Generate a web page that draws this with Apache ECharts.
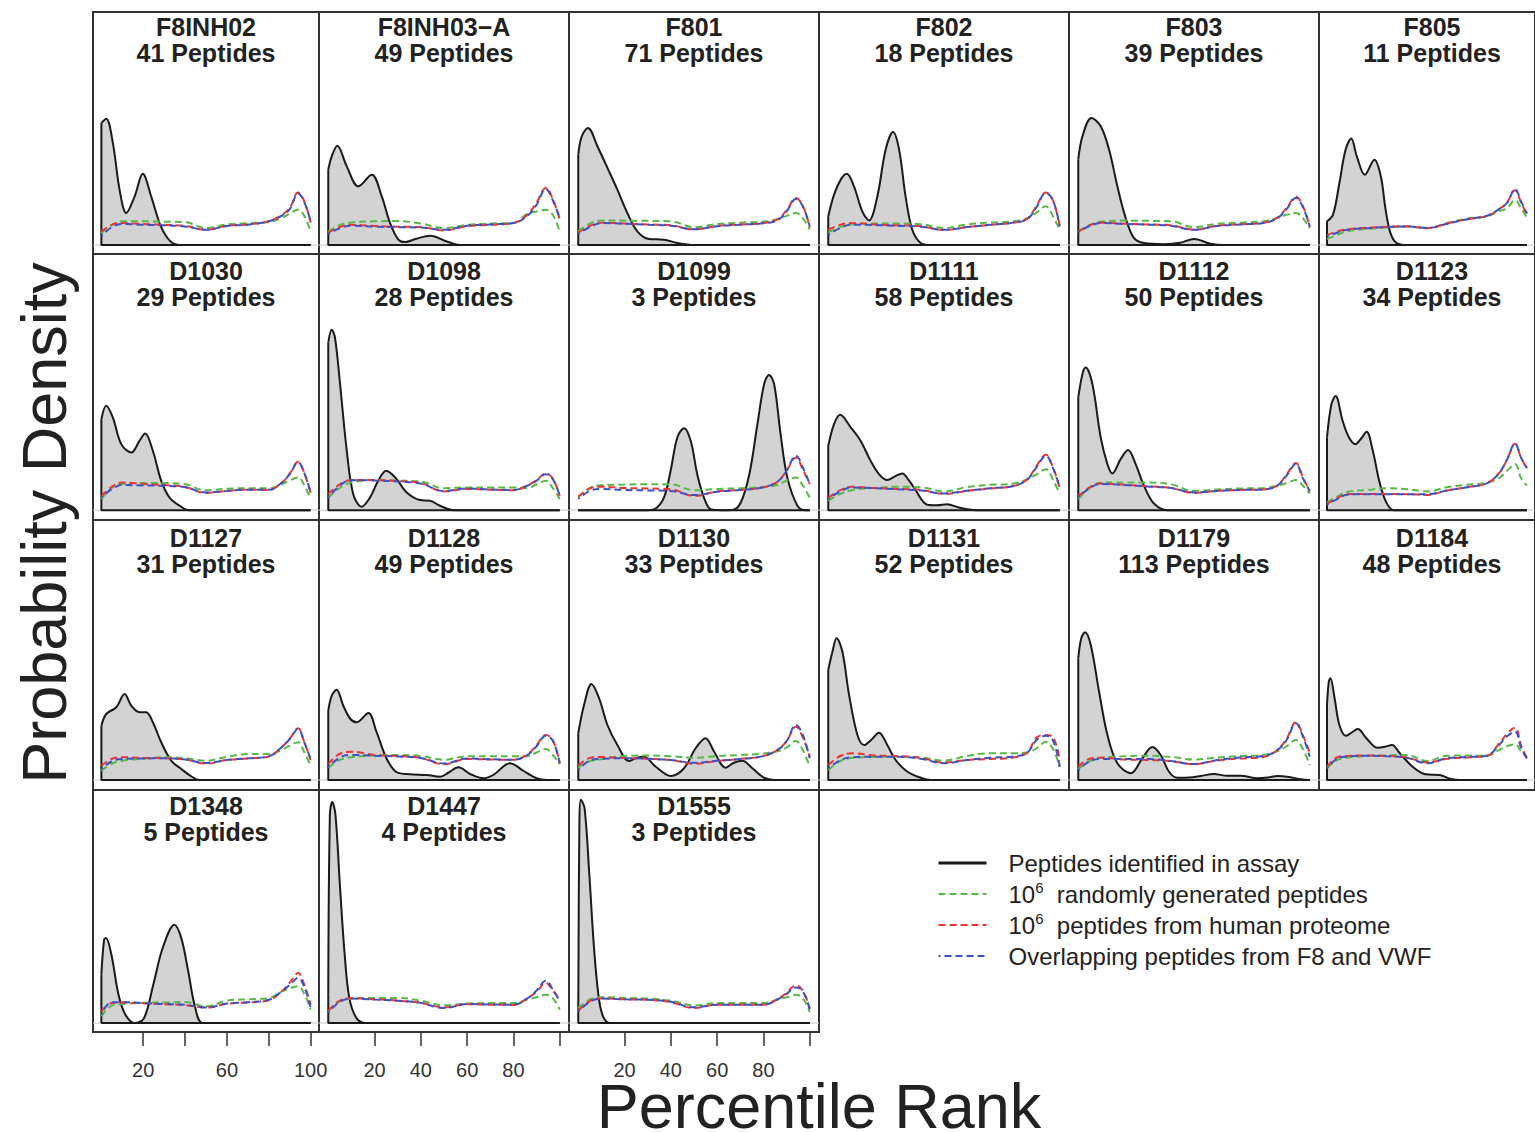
<!DOCTYPE html>
<html>
<head>
<meta charset="utf-8">
<script src="https://cdn.jsdelivr.net/npm/echarts@6/dist/echarts.min.js"></script>
<style>
html,body{margin:0;padding:0;background:#fff;}
#chart{width:1535px;height:1132px;}
</style>
</head>
<body>
<div id="chart"></div>
<script>
// ---------------- DATA ----------------
const panelNames = ['F8INH02','F8INH03\u2212A','F801','F802','F803','F805',
  'D1030','D1098','D1099','D1111','D1112','D1123',
  'D1127','D1128','D1130','D1131','D1179','D1184',
  'D1348','D1447','D1555'];
const peptideCounts = [41,49,71,18,39,11, 29,28,3,58,50,34, 31,49,33,52,113,48, 5,4,3];

const xTickValues = [20,40,60,80,100];
const xLabelsFirstCol = [20,60,100];
const xLabelsOtherCols = [20,40,60,80];

// x positions (percentile rank) at which the three reference curves were read
const refX = [0,5,10,20,30,40,50,60,70,80,86,90,94,97,100];

// density curves of peptides identified in assay: [percentile rank, density]
const assay_F8INH02 = [[0,54.5],[2.3,56.4],[5.5,45.5],[8.7,24.7],[11.9,14.3],[15.9,21.7],[19.8,31.8],[23.8,21.7],[27.8,9.8],[31,3.9],[34.5,0.6],[39,0],[100,0]];
const assay_F8INH03A = [[0,33.6],[1.5,39.6],[3.9,44.3],[8,35.1],[13,26.2],[18.8,31.4],[23.1,21.7],[26.7,9.8],[30.3,2.4],[33.2,1.3],[38,2.8],[44,4.2],[51.2,1.6],[57,0],[100,0]];
const assay_F801 = [[0,40.3],[1.5,48.5],[4.2,52.2],[8.3,44],[13.3,32.9],[16.9,24.7],[21.2,14.3],[25.5,6.1],[30.6,2.7],[37,2.4],[42.8,0.9],[50,0],[100,0]];
const assay_F802 = [[0,12.8],[2.5,22.5],[5.4,29.2],[8,31.8],[11.1,26.2],[14.7,15],[17.6,11],[21.2,21.7],[24.8,42.6],[28,50.4],[30.6,42.6],[33.4,21.7],[36.3,6.8],[39.9,0.9],[44,0],[100,0]];
const assay_F803 = [[0,38.1],[1.8,48.5],[5.7,56.7],[9.7,53],[13.3,42.6],[16.9,26.2],[20.5,12],[24.1,3.1],[28.4,0.9],[37,0.4],[44,1],[50,2.7],[57.2,0.6],[63,0],[100,0]];
const assay_F805 = [[0,10.6],[3,13.5],[6.2,27.7],[9.3,42.6],[12.1,47.5],[14.9,39.6],[18.9,31.4],[23.7,38.1],[26.9,30.7],[29.3,15.8],[31.7,5.4],[34.8,0.9],[41.2,0],[100,0]];
const assay_D1030 = [[0,36.9],[2.3,42.4],[5.5,37.6],[9.5,26.8],[14.3,23.4],[18.2,28.1],[20.9,31.1],[24.6,24.1],[28.6,11.9],[32.6,5.1],[37.4,1.8],[42.1,0],[100,0]];
const assay_D1098 = [[0,68],[1.5,73.2],[2.9,70.1],[5.1,51.2],[8,24.1],[10.8,6.5],[14.4,1.4],[18,5.1],[21.6,11.9],[25,16],[28.9,13.3],[33.9,7.2],[39.7,4.1],[44,3.8],[48.3,1.8],[54,0],[100,0]];
const assay_D1099 = [[0,0],[30,0],[32.7,0.3],[37,5.1],[39.9,16],[42.8,29.5],[45.7,33.3],[48.6,28.1],[51.4,14.6],[54.3,5.1],[57.2,0.4],[62,0],[66.6,0.1],[70.2,3.1],[73.9,14.6],[77.4,34.9],[80.3,51.2],[82.4,54.9],[84.6,51.2],[87.4,30.9],[90.3,13.3],[94.7,1.8],[98.2,0],[100,0]];
const assay_D1111 = [[0,26.1],[2.5,34.9],[5.1,38.7],[9.7,33.6],[14,28.1],[18.3,20],[22,14.5],[25.5,12.2],[29,13.8],[32,14.9],[34.5,12.5],[37,9.2],[42.8,2.2],[47,2],[51.4,2.4],[56,1.2],[60,0.4],[64.4,0],[100,0]];
const assay_D1112 = [[0,45.7],[1.8,55.2],[3.2,57.9],[6.1,51.2],[9.7,29.5],[12.6,18.7],[14.7,14.9],[18.3,20.7],[21.5,24.4],[24.8,18.7],[28.4,9.9],[32.7,2.7],[38.5,0],[100,0]];
const assay_D1123 = [[0,29.5],[2.2,43],[4.3,46.3],[7.8,36.3],[11,29.5],[14.2,26.8],[17,29],[19.8,31.8],[22.9,24.1],[26.1,11.9],[29.3,3.8],[33.3,0],[100,0]];
const assay_D1127 = [[0,21.7],[2.3,26.4],[7.1,29.1],[11.1,34.4],[14.3,29.7],[18.2,27.1],[21.4,27.1],[24.6,23.1],[28.6,15.1],[33.4,7.7],[38.2,4.4],[42.9,1.5],[46.9,0],[100,0]];
const assay_D1128 = [[0,27.7],[1.5,33.7],[3.6,36.1],[6.5,29.7],[9.5,24.5],[12.3,23.1],[17.3,26.8],[20.9,19.1],[25.3,8.4],[29.6,3.1],[35.3,2.3],[42.5,2],[48.3,1.3],[52,3],[56.2,5.1],[61.3,2.4],[67,0.7],[71.3,2],[78.5,6.7],[84.3,3.7],[90,0.7],[94.3,0],[100,0]];
const assay_D1130 = [[0,18.7],[2.5,30],[5.7,38.4],[9,32.7],[12.6,22],[16.9,14],[21.9,7.6],[25,8.8],[28.4,9.3],[33.5,5.3],[40,1.6],[45.7,4.7],[50.7,12.7],[55,16.7],[58.7,11.3],[63.7,4.9],[67,6.8],[70.9,7.7],[75.2,4.7],[80.3,0.9],[84.6,0],[100,0]];
const assay_D1131 = [[0,44],[1.8,51.3],[3.6,56.7],[6.1,51.3],[9,34],[12.6,18],[15.5,14],[18.5,16],[21.9,18.9],[25.5,14],[29.1,8],[34.2,3.3],[40,0.9],[44.3,0],[100,0]];
const assay_D1179 = [[0,48.7],[1.3,56.7],[2.9,59.1],[5.4,54],[9,35.3],[12.6,18],[16.9,6.7],[22.7,2.7],[27.7,8.7],[32,13.2],[35.6,10],[39.2,3.3],[42.8,0.9],[48,1],[52.9,1.6],[58.6,2.4],[64.4,1.7],[70.2,1.7],[77.4,0.7],[82,1],[86,1.6],[91.1,1.2],[96.1,0.3],[100,0]];
const assay_D1184 = [[0,30],[0.9,39.3],[1.7,40.7],[3.8,32.7],[6.2,22],[9.4,17.7],[12,18.8],[15.4,20.4],[19.7,16.7],[25.3,12.9],[29,13.3],[32.5,14],[36.4,10.7],[42.8,5.3],[49.2,2.3],[56.4,2],[62,0.4],[66.7,0],[100,0]];
const assay_D1348 = [[0,21.6],[1.3,37.2],[2.2,37.9],[4.8,30.5],[8.2,12.6],[11.5,3.7],[16,0],[20.4,2.2],[24.8,17.1],[29.3,33.5],[34.9,43.9],[38.2,37.9],[41.5,23.1],[44.9,6.7],[48.6,0],[100,0]];
const assay_D1447 = [[0,12.6],[0.7,93],[1.7,98.7],[3.1,93],[5.1,60.3],[7.1,30.5],[9.1,11.2],[12.2,2.2],[16.2,0],[100,0]];
const assay_D1555 = [[0,5.2],[0.5,90],[1.1,99.7],[2.7,96],[4.7,67.7],[6.7,35],[8.7,12.6],[10.7,3],[13.8,0],[100,0]];

// 10^6 randomly generated peptides (values at refX)
const random_F8INH02 = [5.4,9,10.6,10.6,10.4,10.2,7.6,9.2,9.8,10.3,12,14,15.8,13,6];
const random_F8INH03A = [6,9,10.1,10.6,10.7,9.6,7.6,9,9.6,9.8,14,15,15.8,13.5,6];
const random_F801 = [6.1,9.5,11,10.9,10.8,10.6,8,9.4,10,10.5,11.5,13,14.3,12,7];
const random_F802 = [5.6,8,9.2,9.6,9.6,9.3,7.6,9.2,10,10.6,12,14.5,17.3,13,6.8];
const random_F803 = [6,9,10.5,10.9,10.8,10.6,8,9.5,10,10.6,12,13.5,14.3,12,7.5];
const random_F805 = [2.7,4.5,6.1,7.2,7.8,8.2,7.6,9.8,11.8,12.8,15,16.5,20,16.5,12];
const random_D1030 = [4.5,9,10.6,11,11,10.5,8.1,8.7,8.9,8.9,10.5,12,13.3,10,4.5];
const random_D1098 = [5.1,9,11.2,12.2,12,11.6,8.9,9.2,9.2,9.2,8.9,10.5,11.9,9,4.5];
const random_D1099 = [5.1,9,10.1,10.4,10.5,10.5,8.1,8.6,8.9,9.4,10.2,12,13.3,10,5.1];
const random_D1111 = [3.8,6.5,8.1,9,9.5,9.3,7.6,9.4,10.3,10.8,12.5,14.5,16.6,12.5,6.5];
const random_D1112 = [4.5,9,11.2,11.2,11.2,10.5,7.8,8.4,8.8,8.9,10,11,12.2,10,6.8];
const random_D1123 = [3.1,5.5,7.4,8.2,8.9,8.5,7.6,9.3,10.3,11.2,13,16,18.7,13,10];
const random_D1127 = [3.7,6.5,7.7,8.5,9.1,8.8,7.7,9.3,10.4,10.4,12,13.7,15.1,11,5.7];
const random_D1128 = [5,8,9.1,9.8,10,9.6,8.1,9.5,9.5,9.5,9.5,11,12.4,10,6.4];
const random_D1130 = [5,7.5,8.3,9.6,9.8,9.5,8.9,9.6,10,10.6,11.5,13,15.6,12,5.3];
const random_D1131 = [4,7.5,8.8,9.2,9.4,9,7.8,9.6,10.7,10.7,11,12.7,15.3,12.5,5.3];
const random_D1179 = [4.4,7.5,8.9,9.5,9.7,9.2,8.2,9,9.6,10,11.5,13.5,16,12.5,6];
const random_D1184 = [4.7,8,8.9,9.6,9.9,10,7.6,9.7,9.8,9.7,12,13.5,14.3,11.5,9];
const random_D1348 = [3,7.8,8.5,9,9.2,9.4,7.5,10,10.6,11.2,14,15.5,16.4,13,6];
const random_D1447 = [5.2,9.7,11,11.2,11.2,10,7.9,8.7,8.9,8.9,10.5,11.5,12.6,11,6];
const random_D1555 = [6.7,10.5,11.5,11.2,10.9,10,7.9,8.9,8.9,8.9,10.5,11.5,12.6,11,4.9];

// 10^6 peptides from human proteome (values at refX)
const proteome_F8INH02 = [6,9,9.8,9.4,9,8.5,6.8,8.6,9.2,10.6,13.3,16.5,23.5,19.5,10];
const proteome_F8INH03A = [5.5,8,9,8.5,8.2,8,6.5,8.4,9,9.8,13.5,19,25.5,20.5,11.5];
const proteome_F801 = [5.5,8.5,10,9.6,9.2,8.8,7,8.5,9.2,9.8,11.5,15.5,21,17.5,8];
const proteome_F802 = [6.8,9,9.8,9.2,8.8,8.4,6.7,8,9,10,11.8,17.5,23.5,20,8.5];
const proteome_F803 = [6,8.8,10,9.5,9.2,8.8,6.9,8.6,9.3,9.9,12.3,16.5,21.5,17.5,8];
const proteome_F805 = [4.5,6,7,7.7,8.2,8.4,7.5,9.6,11.5,13,16,19,24.5,19,13.5];
const proteome_D1030 = [5.7,9.5,11.2,10.6,10.2,9.4,7,7.8,8.3,8.2,11,14.8,19.6,15,7];
const proteome_D1098 = [6.5,10.5,12.2,12.2,11.8,11,7.6,8.6,8.3,8.1,10,12.2,14.9,12.8,5.8];
const proteome_D1099 = [5.5,8.8,9.5,9,8.8,8.5,5.8,7.6,8.2,9.3,11.5,16,21.4,16.5,10.6];
const proteome_D1111 = [5,8,9.5,9,8.6,8.2,6.6,7.8,8.8,9.8,12.5,18,22.5,17.5,9];
const proteome_D1112 = [5.5,9.3,10.8,10.3,9.7,9,7,7.8,8.2,8.4,10,14.5,19.1,13.5,7.5];
const proteome_D1123 = [2.5,4.8,6.5,6.6,6.6,6.5,6.2,8,9.3,11,15,20.5,27,21.4,16.5];
const proteome_D1127 = [5.7,8.5,9.1,8.8,8.7,8.2,6.6,8,8.6,9.4,13,16.5,20.7,15,8];
const proteome_D1128 = [6.4,10.5,11.3,10,9.6,8.8,6.3,8.4,8.2,8.1,10.2,14,18,16,6.5];
const proteome_D1130 = [5.8,8.8,9.2,8.8,8.5,8,6.5,7.6,8.4,9.6,12,15.5,21.3,17,9.3];
const proteome_D1131 = [6,9.5,10.7,9.8,9.6,8.8,7,8,8.4,9,11,17,18,17.3,7.8];
const proteome_D1179 = [5.3,8.5,8.9,8.2,8,7.6,6.3,7.8,8.6,9.2,12,16.5,23.1,18,10.7];
const proteome_D1184 = [5.3,9,9.6,9.8,9.6,9,7,8.5,9,9.7,14.5,18.5,20.9,14,8.5];
const proteome_D1348 = [5.2,8.9,9.2,8.8,8.4,8,6.9,8.6,9.2,10.2,14,18,22.3,17,8.2];
const proteome_D1447 = [5.5,10,11.1,10.6,10,9,7,8.4,8.2,8.1,11,14,17.9,14.5,10.4];
const proteome_D1555 = [5.5,9.8,11,10.6,10.4,9.3,6.7,8.2,8.2,8.2,10.5,13.5,16.8,14.5,6.5];

// overlapping peptides from F8 and VWF (values at refX)
const overlap_F8INH02 = [4,8,9.4,9,8.8,8.3,6.8,8.5,9.1,10.6,13,16,23,19,10.6];
const overlap_F8INH03A = [5,7.5,8.6,8.2,8,7.8,6.8,8.6,9.2,9.8,13,18,25,20,12];
const overlap_F801 = [5,8,9.8,9.5,9.1,8.6,7.1,8.4,9.1,9.7,11,15,20.5,17.3,8.3];
const overlap_F802 = [4.6,7.5,9.1,8.9,8.6,8.2,6.8,8,9,10,11.6,17,23.2,20.2,8.3];
const overlap_F803 = [5.7,8.5,9.8,9.4,9.1,8.6,6.8,8.5,9.2,9.8,12,16,21,17,8.3];
const overlap_F805 = [3.9,5.5,6.8,7.5,8,8.3,7.6,9.5,11.5,13.1,16,18.8,25,19.5,14];
const overlap_D1030 = [5.1,8.5,10.2,10,9.9,9.3,7.2,7.8,8.3,8.3,11,14.6,19.4,15,7.2];
const overlap_D1098 = [5.1,10,12.2,12,11.6,10.8,7.8,8.8,8.4,8.2,9.9,12,14.6,12.6,5.8];
const overlap_D1099 = [4.5,7.8,8.6,8.2,8,7.8,6.1,7.5,8.2,9.3,11.5,16,22.1,17.3,10.6];
const overlap_D1111 = [4.5,7.5,9.2,8.9,8.5,8,6.8,7.9,8.9,9.8,12.5,17.5,22.1,17.3,9.2];
const overlap_D1112 = [5.1,9,10.6,10.2,9.6,9,7.2,7.8,8.2,8.4,10,14,18.7,13,7.8];
const overlap_D1123 = [2.2,4.5,6.3,6.5,6.5,6.5,6.5,8,9.3,11,15,20.5,27,21.4,17];
const overlap_D1127 = [4.4,7.5,8.4,8.6,8.7,8.2,6.8,8,8.7,9.5,13,16.4,20.4,15,8.4];
const overlap_D1128 = [5.1,9,10,9.7,9.4,8.8,6.6,8.6,8.3,8.1,10,13.5,17.7,15.7,6.7];
const overlap_D1130 = [4,7.8,8.5,8.7,8.5,8,6.9,7.7,8.4,9.6,12,15.5,22,18,8.7];
const overlap_D1131 = [4.7,7.8,9.1,9.3,9.3,8.5,6.7,8,8.9,9.4,11,16,17.7,16,5.3];
const overlap_D1179 = [4,7.5,8.4,8.4,8.4,7.6,6.4,8,9,9.6,12,16,22.7,17.5,9.3];
const overlap_D1184 = [4.7,8.5,9.4,9.7,9.5,8.9,6.7,8.7,9.2,9.7,14,17.5,19.3,13,8.5];
const overlap_D1348 = [3.7,9.3,9.3,8.9,8.5,8.2,6.9,8.7,9.3,10.4,14,17,20.1,16,6.7];
const overlap_D1447 = [4.5,9.5,10.9,10.5,10,9,6.7,8.5,8.3,8.2,11,14.5,18.9,15,9.7];
const overlap_D1555 = [5.2,9.5,10.9,10.6,10.4,9.5,7,8.2,8.2,8.2,10.5,13,15.9,14.2,6];

const assayCurves = [assay_F8INH02,assay_F8INH03A,assay_F801,assay_F802,assay_F803,assay_F805,
  assay_D1030,assay_D1098,assay_D1099,assay_D1111,assay_D1112,assay_D1123,
  assay_D1127,assay_D1128,assay_D1130,assay_D1131,assay_D1179,assay_D1184,
  assay_D1348,assay_D1447,assay_D1555];
const randomCurves = [random_F8INH02,random_F8INH03A,random_F801,random_F802,random_F803,random_F805,
  random_D1030,random_D1098,random_D1099,random_D1111,random_D1112,random_D1123,
  random_D1127,random_D1128,random_D1130,random_D1131,random_D1179,random_D1184,
  random_D1348,random_D1447,random_D1555];
const proteomeCurves = [proteome_F8INH02,proteome_F8INH03A,proteome_F801,proteome_F802,proteome_F803,proteome_F805,
  proteome_D1030,proteome_D1098,proteome_D1099,proteome_D1111,proteome_D1112,proteome_D1123,
  proteome_D1127,proteome_D1128,proteome_D1130,proteome_D1131,proteome_D1179,proteome_D1184,
  proteome_D1348,proteome_D1447,proteome_D1555];
const overlapCurves = [overlap_F8INH02,overlap_F8INH03A,overlap_F801,overlap_F802,overlap_F803,overlap_F805,
  overlap_D1030,overlap_D1098,overlap_D1099,overlap_D1111,overlap_D1112,overlap_D1123,
  overlap_D1127,overlap_D1128,overlap_D1130,overlap_D1131,overlap_D1179,overlap_D1184,
  overlap_D1348,overlap_D1447,overlap_D1555];

const legendLabels = {
  assay: 'Peptides identified in assay',
  random: '{n|10}{sup|6}{n|  randomly generated peptides}',
  proteome: '{n|10}{sup|6}{n|  peptides from human proteome}',
  overlap: 'Overlapping peptides from F8 and VWF'
};

// ---------------- LAYOUT / STYLE ----------------
const FONT = '"Liberation Sans", Arial, Helvetica, sans-serif';
const colEdges = [93, 319, 569, 819, 1069, 1319, 1545];
const rowEdges = [12, 254, 520, 790, 1032];
const titleCapCenter = [15, 17, 18, 16];
const X_MIN = -4, X_MAX = 104, Y_MIN = -4, Y_MAX = 104;
const refStyles = {
  random:   {color: '#58b947', offset: 0},
  proteome: {color: '#ee3333', offset: 0},
  overlap:  {color: '#3a52c4', offset: 5}
};

const grids = [], xAxes = [], yAxes = [], series = [], graphics = [];

panelNames.forEach((name, i) => {
  const r = Math.floor(i / 6), c = i % 6;
  const left = colEdges[c], right = colEdges[c + 1];
  const top = rowEdges[r], bottom = rowEdges[r + 1];
  grids.push({left: left, top: top, width: right - left, height: bottom - top,
    show: true, borderColor: '#333', borderWidth: 2, backgroundColor: 'transparent'});
  const isBottom = (r === 3);
  xAxes.push({
    gridIndex: i, type: 'value', min: X_MIN, max: X_MAX, show: isBottom, position: 'bottom',
    axisLine: {show: false, onZero: false},
    splitLine: {show: false},
    axisTick: {show: true, customValues: xTickValues, length: 14, lineStyle: {color: '#333', width: 1.5}},
    axisLabel: {show: true, customValues: c === 0 ? xLabelsFirstCol : xLabelsOtherCols,
      fontSize: 20, color: '#333', margin: 28, fontFamily: FONT}
  });
  yAxes.push({gridIndex: i, type: 'value', min: Y_MIN, max: Y_MAX, show: false, splitLine: {show: false}});

  // light grey zero line across the panel
  series.push({name: 'zero', type: 'line', xAxisIndex: i, yAxisIndex: i,
    data: [[X_MIN, 0], [X_MAX, 0]], symbol: 'none', silent: true, z: 1,
    lineStyle: {color: '#c8c8c8', width: 1}});

  const curve = assayCurves[i];
  series.push({name: 'assay', type: 'line', xAxisIndex: i, yAxisIndex: i,
    data: curve, smooth: 0.35, symbol: 'none', silent: true, z: 2,
    itemStyle: {color: '#1a1a1a'},
    lineStyle: {color: '#1a1a1a', width: 2},
    areaStyle: {color: '#d3d3d3', opacity: 1}});
  const first = curve[0], last = curve[curve.length - 1];
  series.push({name: 'outline', type: 'line', xAxisIndex: i, yAxisIndex: i,
    data: [[first[0], first[1]], [first[0], 0], [last[0], 0]], symbol: 'none', silent: true, z: 3,
    lineStyle: {color: '#1a1a1a', width: 2}});

  [['random', randomCurves[i]], ['proteome', proteomeCurves[i]], ['overlap', overlapCurves[i]]].forEach(([key, vals]) => {
    series.push({name: key, type: 'line', xAxisIndex: i, yAxisIndex: i,
      data: refX.map((x, k) => [x, vals[k]]), smooth: 0.4, symbol: 'none', silent: true, z: 4,
      itemStyle: {color: refStyles[key].color},
      lineStyle: {color: refStyles[key].color, width: 2, type: [7, 4], dashOffset: refStyles[key].offset}});
  });

  graphics.push({type: 'text', x: (left + right) / 2, y: top + titleCapCenter[r] - 12.75, silent: true, z: 10,
    style: {text: name + '\n' + peptideCounts[i] + ' Peptides', fill: '#222',
      fontSize: 25, fontWeight: 'bold', fontFamily: FONT, lineHeight: 26,
      align: 'center', verticalAlign: 'top'}});
});

graphics.push({type: 'text', x: 819, y: 1106, silent: true,
  style: {text: 'Percentile Rank', fill: '#222', fontSize: 63, lineHeight: 46, fontFamily: FONT, align: 'center', verticalAlign: 'middle'}});
graphics.push({type: 'text', x: 44, y: 523, rotation: Math.PI / 2, silent: true,
  style: {text: 'Probability Density', fill: '#222', fontSize: 63, lineHeight: 56, fontFamily: FONT, align: 'center', verticalAlign: 'middle'}});

const option = {
  animation: false,
  backgroundColor: '#fff',
  grid: grids,
  xAxis: xAxes,
  yAxis: yAxes,
  series: series,
  graphic: graphics,
  legend: {
    orient: 'vertical', left: 937, top: 849, padding: 0,
    itemWidth: 48, itemHeight: 12, itemGap: 3, selectedMode: false,
    itemStyle: {opacity: 0},
    data: [{name: 'assay', lineStyle: {width: 3}}, {name: 'random'}, {name: 'proteome'}, {name: 'overlap'}],
    formatter: n => legendLabels[n],
    textStyle: {fontSize: 24, color: '#222', fontFamily: FONT, lineHeight: 28, padding: [0, 0, 0, 17],
      rich: {
        n: {fontSize: 24, lineHeight: 28, fontFamily: FONT, color: '#222'},
        sup: {fontSize: 15, lineHeight: 15, verticalAlign: 'top', fontFamily: FONT, color: '#222'}
      }}
  }
};

const chart = echarts.init(document.getElementById('chart'), null, {renderer: 'svg', width: 1535, height: 1132});
chart.setOption(option);
</script>
</body>
</html>
